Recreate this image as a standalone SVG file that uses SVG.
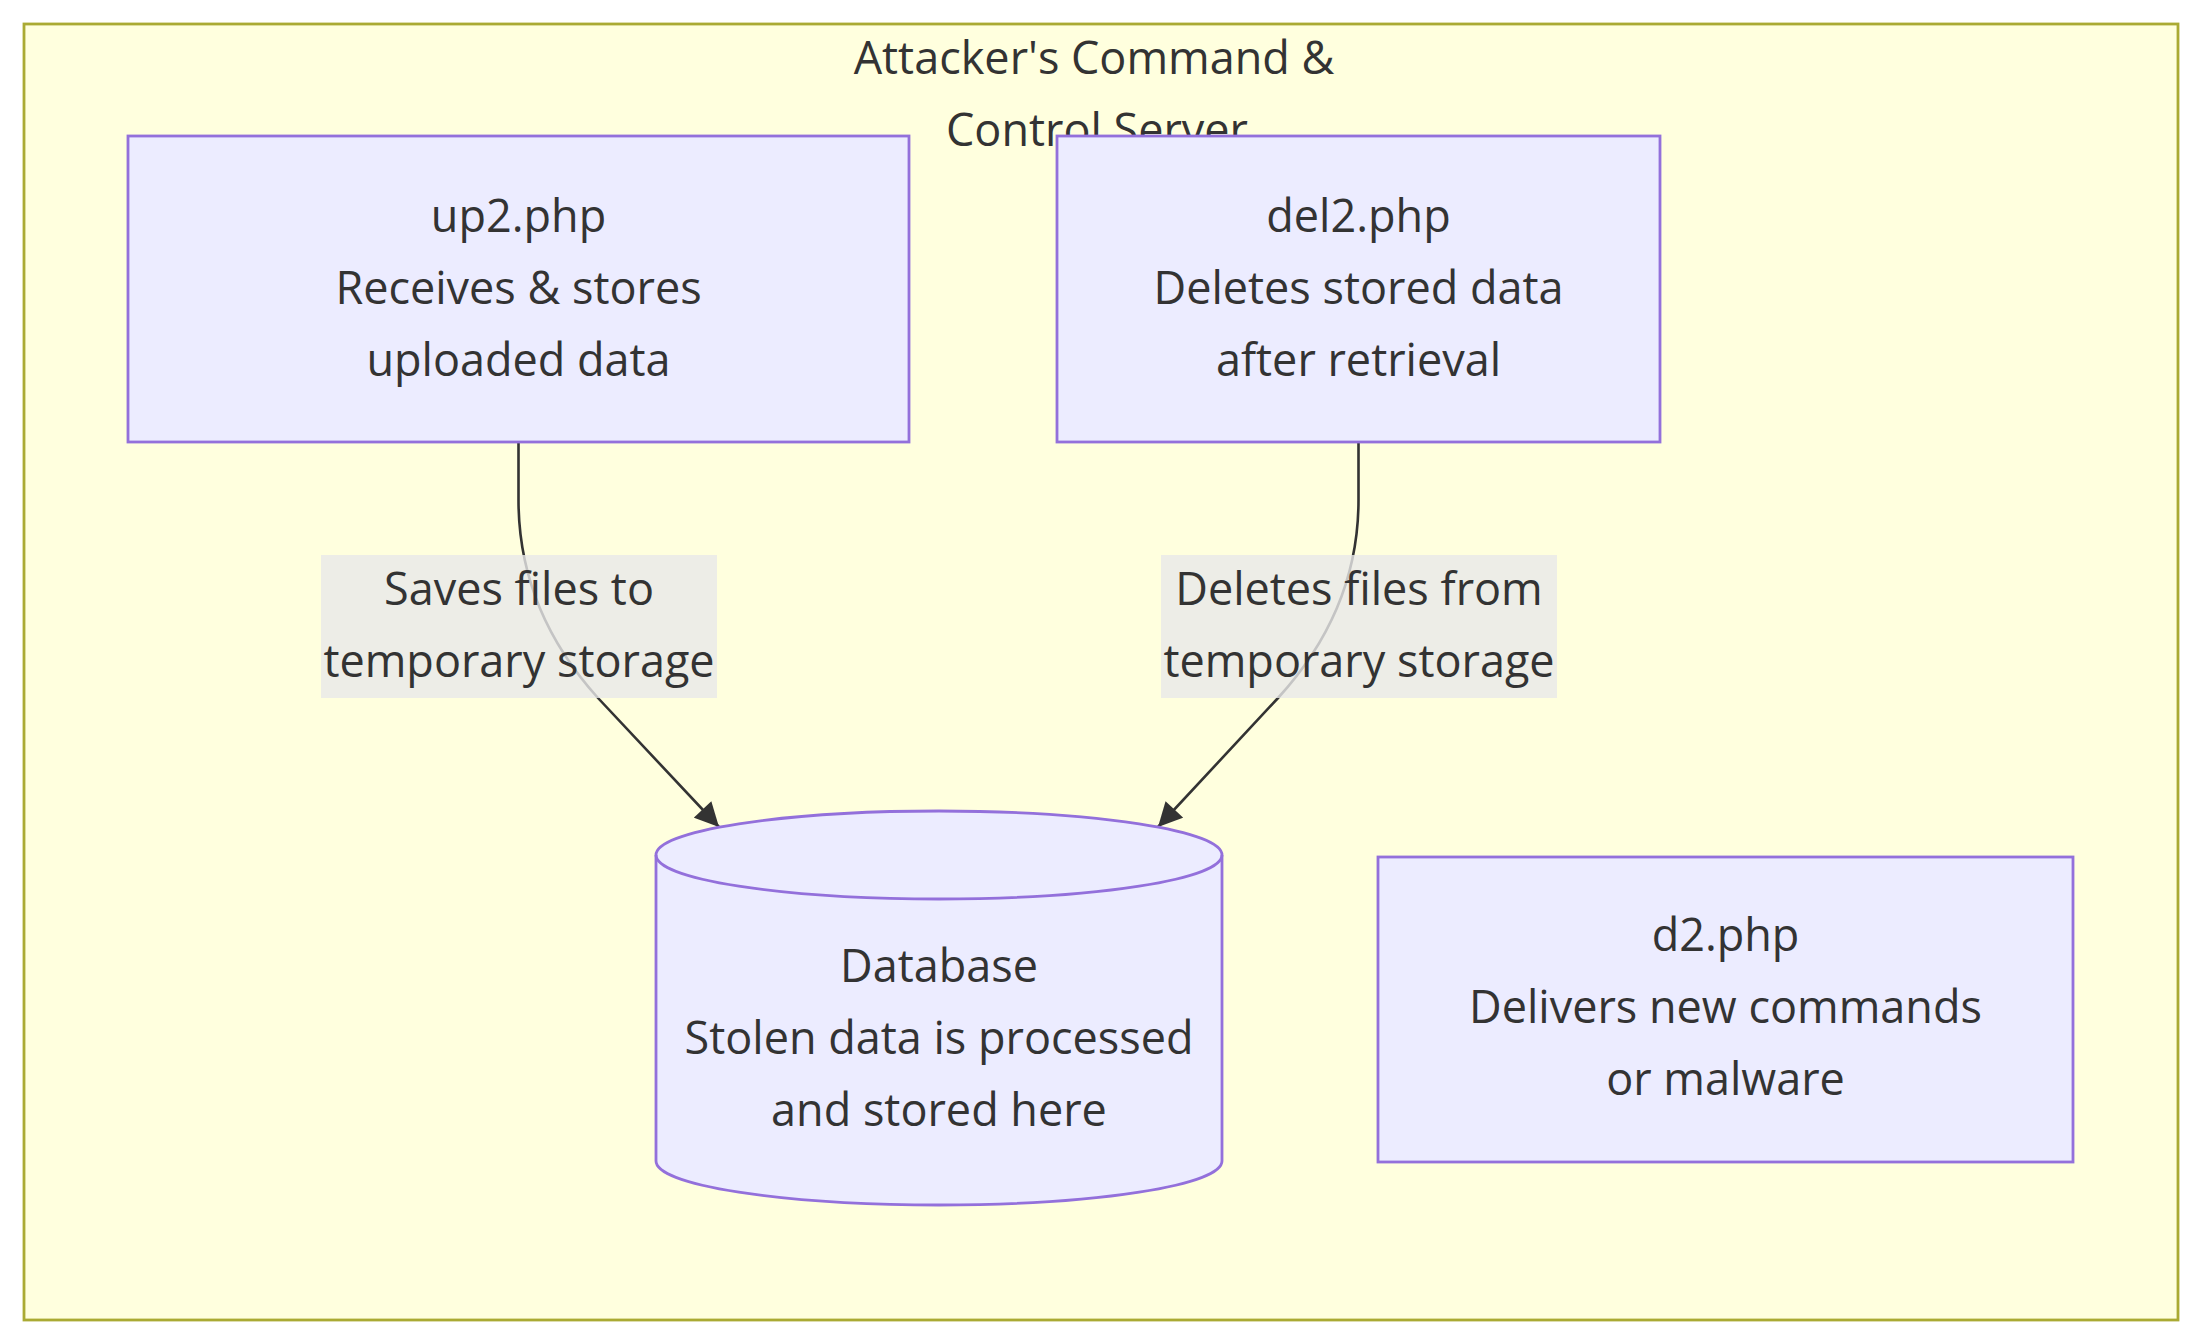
<svg xmlns="http://www.w3.org/2000/svg" width="2202" height="1344" viewBox="0 0 2202 1344">
<defs>
<marker id="arrow" viewBox="0 0 10 10" refX="10" refY="5" markerUnits="userSpaceOnUse" markerWidth="26" markerHeight="24" orient="auto">
<path d="M0,0 L10,5 L0,10 z" fill="#333333"/>
</marker>
</defs>
<style>
.cluster{fill:#ffffde;stroke:#aaaa33;stroke-width:2.8}
.node{fill:#ececff;stroke:#9370db;stroke-width:2.8}
.edge{fill:none;stroke:#333333;stroke-width:2.6}
.lblbg{fill:rgba(232,232,232,0.8);stroke:none}
text{font-family:"Open Sans","DejaVu Sans",sans-serif;font-size:45px;fill:#333333;text-anchor:middle}
</style>
<rect width="2202" height="1344" fill="#ffffff"/>
<g id="cluster-c2">
<rect class="cluster" x="24" y="24" width="2154" height="1296"/>
<text x="1094" y="74">Attacker's Command &amp;</text>
<text x="1097" y="146">Control Server</text>
</g>
<g id="connectors">
<path class="edge" d="M518.5,442 V500 Q518.5,610 598,698 L719,827" marker-end="url(#arrow)"/>
<path class="edge" d="M1358.5,442 V500 Q1358.5,610 1278,698 L1158,827" marker-end="url(#arrow)"/>
<g id="label-up2-db">
<rect class="lblbg" x="321" y="555" width="396" height="143"/>
<text x="519" y="605">Saves files to</text>
<text x="519" y="677">temporary storage</text>
</g>
<g id="label-del2-db">
<rect class="lblbg" x="1161" y="555" width="396" height="143"/>
<text x="1359" y="605">Deletes files from</text>
<text x="1359" y="677">temporary storage</text>
</g>
</g>
<g id="node-up2">
<rect class="node" x="128" y="136" width="781" height="306"/>
<text x="518.5" y="232">up2.php</text>
<text x="518.5" y="304">Receives &amp; stores</text>
<text x="518.5" y="376">uploaded data</text>
</g>
<g id="node-del2">
<rect class="node" x="1057" y="136" width="603" height="306"/>
<text x="1358.5" y="232">del2.php</text>
<text x="1358.5" y="304">Deletes stored data</text>
<text x="1358.5" y="376">after retrieval</text>
</g>
<g id="node-db">
<path class="node" d="M656,855 A283,44 0 0 1 1222,855 V1161 A283,44 0 0 1 656,1161 Z"/>
<path class="node" style="fill:none" d="M656,855 A283,44 0 0 0 1222,855"/>
<text x="939" y="982">Database</text>
<text x="939" y="1054">Stolen data is processed</text>
<text x="939" y="1126">and stored here</text>
</g>
<g id="node-d2">
<rect class="node" x="1378" y="857" width="695" height="305"/>
<text x="1725.5" y="951">d2.php</text>
<text x="1725.5" y="1023">Delivers new commands</text>
<text x="1725.5" y="1095">or malware</text>
</g>
</svg>
